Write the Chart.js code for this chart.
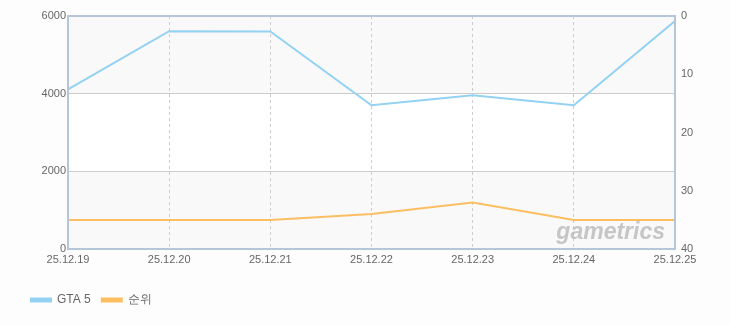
<!DOCTYPE html>
<html><head><meta charset="utf-8">
<script src="https://cdn.jsdelivr.net/npm/chart.js@4"></script>
<style>html,body{margin:0;padding:0;background:#fdfdfd;}#wrap{width:730px;height:325px;}</style>
</head><body><div id="wrap"><canvas id="c" width="730" height="325"></canvas></div>
<script>
const categories = ["25.12.19","25.12.20","25.12.21","25.12.22","25.12.23","25.12.24","25.12.25"];
const gtaValues = [4110, 5610, 5600, 3700, 3960, 3700, 5870];
const rankValues = [35, 35, 35, 34, 32, 35, 35];
const leftTicks = [0, 2000, 4000, 6000];
const rightTicks = [0, 10, 20, 30, 40];

const fontFam = "'Liberation Sans', Arial, sans-serif";

const bgPlugin = {
  id: 'bands',
  afterLayout(chart) {
    if (chart.legend) { chart.legend.left += 20; chart.legend.right += 20; }
  },
  beforeDraw(chart) {
    const {ctx, chartArea: a, scales} = chart;
    const y = scales.y;
    ctx.save();
    for (let i = 0; i < leftTicks.length - 1; i++) {
      const t = y.getPixelForValue(leftTicks[i + 1]);
      const b = y.getPixelForValue(leftTicks[i]);
      ctx.fillStyle = (i % 2 === 0) ? '#f9f9f9' : '#ffffff';
      ctx.fillRect(a.left, t, a.right - a.left, b - t);
    }
    ctx.restore();
  },
  afterDatasetsDraw(chart) {
    const {ctx, chartArea: a} = chart;
    ctx.save();
    ctx.font = "italic bold 23px " + fontFam;
    ctx.fillStyle = 'rgba(180,180,180,0.75)';
    ctx.textAlign = 'right';
    ctx.textBaseline = 'alphabetic';
    ctx.fillText('gametrics', a.right - 10, a.bottom - 10);
    ctx.restore();
  },
  afterDraw(chart) {
    const {ctx, chartArea: a} = chart;
    ctx.save();
    ctx.strokeStyle = '#b4c6d8';
    ctx.lineWidth = 2;
    ctx.strokeRect(a.left, a.top, a.right - a.left, a.bottom - a.top);
    ctx.restore();
  }
};

new Chart(document.getElementById('c'), {
  type: 'line',
  data: {
    labels: categories,
    datasets: [
      { label: 'GTA 5', data: gtaValues, yAxisID: 'y', borderColor: '#93d2f2', backgroundColor: '#93d2f2', borderWidth: 2, pointRadius: 0, tension: 0 },
      { label: '순위', data: rankValues, yAxisID: 'y1', borderColor: '#fbbf62', backgroundColor: '#fbbf62', borderWidth: 2, pointRadius: 0, tension: 0 }
    ]
  },
  plugins: [bgPlugin],
  options: {
    responsive: false,
    animation: false,
    devicePixelRatio: 1,
    layout: { padding: { top: 16, left: 0, right: 0, bottom: 9 } },
    plugins: {
      legend: {
        position: 'bottom', align: 'start',
        labels: { boxWidth: 20, boxHeight: 3, color: '#666', padding: 11, font: { family: fontFam, size: 12 } }
      },
      tooltip: { enabled: false }
    },
    scales: {
      x: {
        offset: false,
        grid: { color: '#cccccc', drawTicks: false, tickLength: 0 },
        border: { display: true, color: 'rgba(0,0,0,0)', dash: [3, 3] },
        ticks: { color: '#666', font: { family: fontFam, size: 11 }, padding: 4, maxRotation: 0, autoSkip: false },
        afterFit(s) { s.height = 34; }
      },
      y: {
        position: 'left', min: 0, max: 6000,
        grid: { color: '#cccccc', drawTicks: false },
        border: { display: false },
        ticks: { stepSize: 2000, color: '#666', padding: 2, font: { family: fontFam, size: 11 }, callback: v => String(v) },
        afterFit(s) { s.width = 68; }
      },
      y1: {
        position: 'right', min: 0, max: 40, reverse: true,
        grid: { drawOnChartArea: false, drawTicks: false },
        border: { display: false },
        ticks: { stepSize: 10, color: '#666', padding: 6, font: { family: fontFam, size: 11 }, callback: v => String(v) },
        afterFit(s) { s.width = 55; }
      }
    }
  }
});
</script></body></html>
